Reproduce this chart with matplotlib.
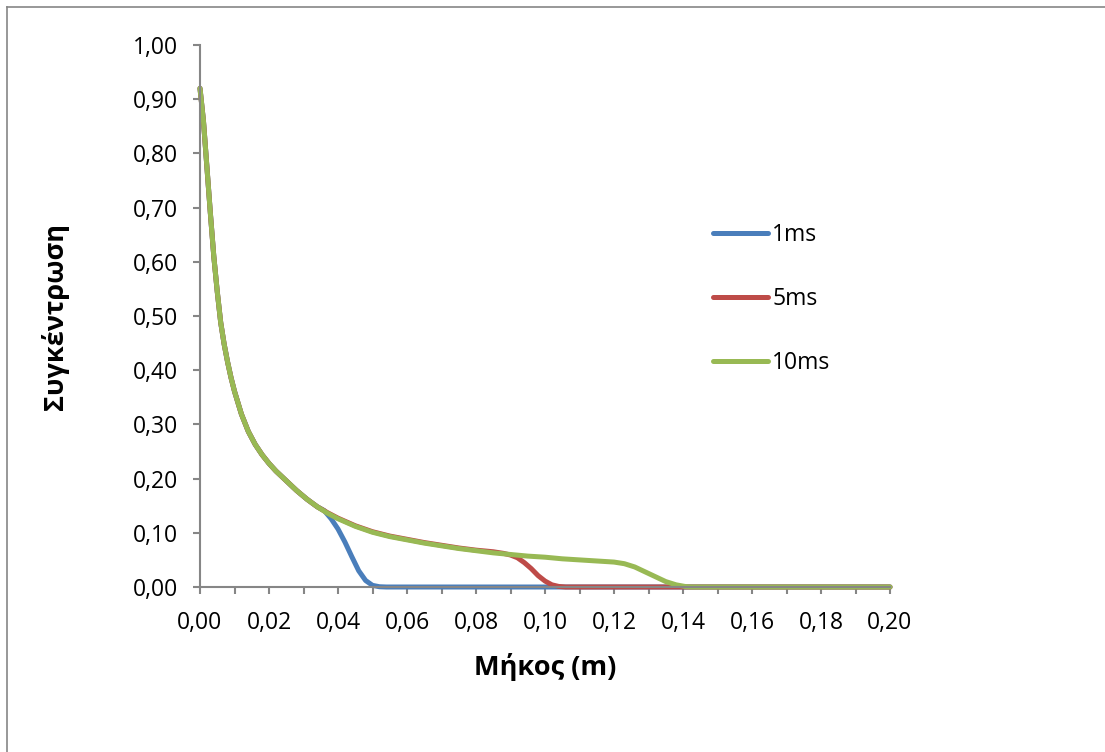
import matplotlib.pyplot as plt
from matplotlib.lines import Line2D
from matplotlib.ticker import FuncFormatter, MultipleLocator

plt.rcParams["font.family"] = ["Open Sans", "DejaVu Sans"]

# common decay part
x_common = [0.000, 0.001, 0.002, 0.003, 0.004, 0.005, 0.006, 0.007, 0.008,
            0.009, 0.010, 0.012, 0.014, 0.016, 0.018, 0.020, 0.022, 0.025,
            0.028, 0.031, 0.034]
c_common = [0.920, 0.860, 0.775, 0.690, 0.610, 0.545, 0.488, 0.448, 0.415,
            0.386, 0.361, 0.319, 0.287, 0.263, 0.244, 0.228, 0.214, 0.196,
            0.178, 0.162, 0.148]

# 1ms
x_1ms = x_common + [0.036, 0.038, 0.040, 0.042, 0.044, 0.046, 0.048, 0.050,
                    0.052, 0.054, 0.100, 0.150, 0.200]
c_1ms = c_common + [0.141, 0.126, 0.107, 0.083, 0.056, 0.030, 0.012, 0.003,
                    0.0005, 0.000, 0.000, 0.000, 0.000]

# 5ms
x_5ms = x_common + [0.037, 0.040, 0.045, 0.050, 0.055, 0.060, 0.065, 0.070,
                    0.075, 0.080, 0.085, 0.088, 0.090, 0.092, 0.094, 0.096,
                    0.098, 0.100, 0.102, 0.104, 0.106, 0.120, 0.150, 0.200]
c_5ms = c_common + [0.137, 0.127, 0.113, 0.102, 0.094, 0.088, 0.082, 0.077,
                    0.072, 0.068, 0.065, 0.062, 0.059, 0.054, 0.045, 0.034,
                    0.021, 0.011, 0.004, 0.001, 0.000, 0.000, 0.000, 0.000]

# 10ms
x_10ms = x_common + [0.037, 0.040, 0.045, 0.050, 0.055, 0.060, 0.065, 0.070,
                     0.075, 0.080, 0.085, 0.090, 0.095, 0.100, 0.105, 0.110,
                     0.115, 0.120, 0.123, 0.126, 0.129, 0.132, 0.135, 0.138,
                     0.141, 0.143, 0.150, 0.200]
c_10ms = c_common + [0.136, 0.126, 0.112, 0.101, 0.093, 0.087, 0.081, 0.076,
                     0.071, 0.067, 0.063, 0.060, 0.057, 0.055, 0.052, 0.050,
                     0.048, 0.046, 0.043, 0.037, 0.028, 0.019, 0.010, 0.004,
                     0.0005, 0.000, 0.000, 0.000]

x_ticks = [0.00, 0.02, 0.04, 0.06, 0.08, 0.10, 0.12, 0.14, 0.16, 0.18, 0.20]
y_ticks = [0.0, 0.1, 0.2, 0.3, 0.4, 0.5, 0.6, 0.7, 0.8, 0.9, 1.0]

fig = plt.figure(figsize=(11.05, 7.52), dpi=100)
ax = fig.add_axes([200 / 1105, 1 - 587 / 752, 690 / 1105, 542 / 752])

lw = 3.6
style = dict(lw=lw, solid_capstyle="round", solid_joinstyle="round",
             clip_on=False)
ax.plot(x_1ms, c_1ms, color="#4A7EBB", label="1ms", **style)
ax.plot(x_5ms, c_5ms, color="#BE4B48", label="5ms", **style)
ax.plot(x_10ms, c_10ms, color="#98B954", label="10ms", **style)

ax.set_xlim(0, 0.20)
ax.set_ylim(0, 1.0)
ax.set_xticks(x_ticks)
ax.set_yticks(y_ticks)
ax.xaxis.set_minor_locator(MultipleLocator(0.01))
comma = FuncFormatter(lambda v, p: f"{v:.2f}".replace(".", ","))
ax.xaxis.set_major_formatter(comma)
ax.yaxis.set_major_formatter(comma)

gray = "#868686"
for s in ["top", "right"]:
    ax.spines[s].set_visible(False)
for s in ["left", "bottom"]:
    ax.spines[s].set_color(gray)
    ax.spines[s].set_linewidth(1.5)
ax.tick_params(axis="y", direction="out", length=5, width=1.5, color=gray,
               labelsize=16.5, pad=11)
ax.tick_params(axis="x", which="both", direction="out", length=5, width=1.5,
               color=gray, labelsize=16.5, pad=12)

ax.set_xlabel("Μήκος (m)", fontsize=19.5, fontweight="bold", labelpad=13)
ax.set_ylabel("Συγκέντρωση", fontsize=19.5, fontweight="bold", labelpad=46)

ax.legend(loc="center left", bbox_to_anchor=(713 / 1105, 1 - 299 / 752),
          bbox_transform=fig.transFigure, frameon=False, fontsize=16.5,
          handlelength=2.4, handletextpad=0.18, labelspacing=1.75,
          borderpad=0, borderaxespad=0)

# outer chart border (left and top edges visible)
fig.add_artist(Line2D([7 / 1105, 7 / 1105], [0, 1 - 7 / 752], color=gray,
                      lw=1.2, transform=fig.transFigure))
fig.add_artist(Line2D([7 / 1105, 1], [1 - 7 / 752, 1 - 7 / 752], color=gray,
                      lw=1.2, transform=fig.transFigure))

fig.savefig("out.png", dpi=100)
